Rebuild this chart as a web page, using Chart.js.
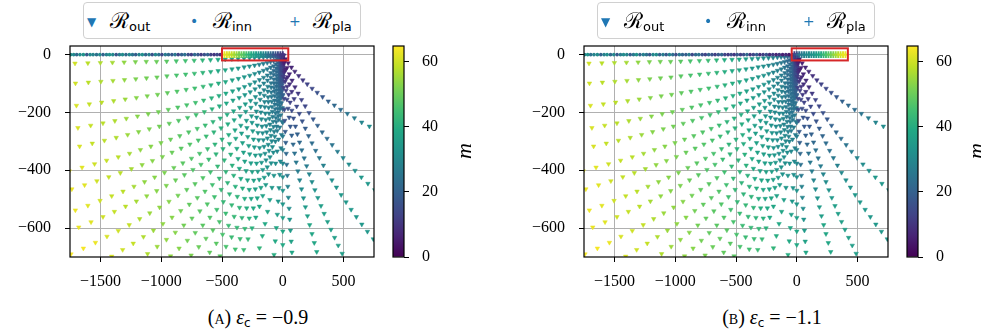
<!DOCTYPE html>
<html>
<head>
<meta charset="utf-8">
<script src="https://cdn.jsdelivr.net/npm/chart.js@4.4.1/dist/chart.umd.min.js"></script>
<style>
  body { margin: 0; background: #fff; }
  #wrap { position: relative; width: 981px; height: 333px; overflow: hidden; font-family: 'Liberation Serif', serif; color: #000; }
  canvas { position: absolute; top: 0; }
  .legend { position: absolute; top: 2px; width: 276px; height: 35px; border: 1.3px solid #d0d0d0; border-radius: 4px; background: #fff; }
  .mk { position: absolute; color: #1f77b4; font-family: 'DejaVu Sans', sans-serif; line-height: 1; }
  .lab { position: absolute; top: 7px; font-family: 'DejaVu Serif', serif; font-size: 22px; line-height: 1; white-space: nowrap; }
  .lab span { font-family: 'DejaVu Sans', sans-serif; font-size: 13px; position: relative; top: 3px; }
  .cap { position: absolute; top: 306px; width: 220px; text-align: center; font-size: 20px; line-height: 22px; white-space: nowrap; }
  .cap .sc { font-variant: small-caps; }
  .cap sub { font-family: 'DejaVu Sans', sans-serif; font-size: 12px; vertical-align: -3px; }
  .mlab { position: absolute; top: 140px; font-size: 22px; font-style: italic; transform: rotate(-90deg); line-height: 1; }
</style>
</head>
<body>
<div id="wrap">
  <canvas id="plotA" width="380" height="292" style="left:0px"></canvas>
  <canvas id="barA" width="100" height="292" style="left:380px"></canvas>
  <canvas id="plotB" width="380" height="292" style="left:514px"></canvas>
  <canvas id="barB" width="100" height="292" style="left:894px"></canvas>

  <div class="legend" style="left:83px">
    <span class="mk" style="left:3px;top:13px;font-size:12px">▼</span>
    <span class="lab" style="left:26px">ℛ<span>out</span></span>
    <span class="mk" style="left:106px;top:11px;font-size:14px">•</span>
    <span class="lab" style="left:129px">ℛ<span>inn</span></span>
    <span class="mk" style="left:205px;top:11px;font-size:14px">+</span>
    <span class="lab" style="left:229px">ℛ<span>pla</span></span>
  </div>
  <div class="legend" style="left:597px">
    <span class="mk" style="left:3px;top:13px;font-size:12px">▼</span>
    <span class="lab" style="left:26px">ℛ<span>out</span></span>
    <span class="mk" style="left:106px;top:11px;font-size:14px">•</span>
    <span class="lab" style="left:129px">ℛ<span>inn</span></span>
    <span class="mk" style="left:205px;top:11px;font-size:14px">+</span>
    <span class="lab" style="left:229px">ℛ<span>pla</span></span>
  </div>

  <div class="cap" style="left:148px">(<span class="sc">a</span>) <i>ε</i><sub>c</sub> = −0.9</div>
  <div class="cap" style="left:662px">(<span class="sc">b</span>) <i>ε</i><sub>c</sub> = −1.1</div>
  <div class="mlab" style="left:456px">m</div>
  <div class="mlab" style="left:968px">m</div>
</div>
<script>
// axis ticks
const xTicks = [-1500, -1000, -500, 0, 500];
const yTicks = [-600, -400, -200, 0];
const cbTicks = [0, 20, 40, 60];
const CB_MAX = 64.8;

// R_out: one list per ray, [x, y, m]
const outLeft = [
  [[-1,-1,8],[-5,-2,11],[-12,-3,14],[-23,-4,18],[-38,-5,20],[-55,-6,21],[-76,-7,22],[-101,-8,24],[-129,-8,26],[-160,-9,27],[-195,-10,28],[-233,-11,30],[-274,-12,32],[-319,-13,33],[-368,-14,34],[-419,-15,36],[-474,-16,38],[-533,-17,39],[-595,-18,40],[-660,-19,42],[-729,-20,44],[-801,-21,45],[-876,-22,46],[-955,-23,48],[-1038,-24,50],[-1123,-24,51],[-1212,-25,52],[-1305,-26,54],[-1401,-27,56],[-1500,-28,57],[-1603,-29,58],[-1709,-30,60]],
  [[-1,-3,8],[-5,-6,11],[-12,-9,14],[-23,-12,18],[-37,-16,20],[-55,-19,21],[-76,-22,22],[-101,-25,24],[-128,-28,26],[-160,-31,27],[-194,-34,28],[-232,-37,30],[-274,-40,32],[-318,-43,33],[-367,-47,34],[-418,-50,36],[-473,-53,38],[-532,-56,39],[-593,-59,40],[-658,-62,42],[-727,-65,44],[-799,-68,45],[-874,-71,46],[-953,-74,48],[-1035,-78,50],[-1121,-81,51],[-1209,-84,52],[-1302,-87,54],[-1397,-90,56],[-1496,-93,57],[-1599,-96,58],[-1705,-99,60]],
  [[-1,-6,9],[-5,-11,12],[-12,-17,15],[-23,-22,19],[-37,-28,21],[-55,-33,22],[-76,-39,23],[-100,-44,25],[-128,-50,27],[-159,-55,28],[-193,-61,29],[-231,-66,31],[-272,-72,33],[-317,-77,34],[-365,-83,35],[-416,-88,37],[-471,-94,39],[-529,-99,40],[-591,-105,41],[-655,-110,43],[-724,-116,45],[-795,-121,46],[-870,-127,47],[-949,-132,49],[-1030,-138,51],[-1115,-143,52],[-1204,-149,53],[-1296,-154,55],[-1391,-160,57],[-1490,-165,58],[-1591,-171,59],[-1697,-176,61]],
  [[-1,-8,9],[-5,-16,12],[-12,-24,15],[-23,-32,19],[-37,-40,21],[-54,-47,22],[-75,-55,23],[-99,-63,25],[-127,-71,27],[-158,-79,28],[-192,-87,29],[-230,-95,31],[-270,-103,33],[-315,-111,34],[-362,-119,35],[-413,-126,37],[-468,-134,39],[-525,-142,40],[-586,-150,41],[-651,-158,43],[-718,-166,45],[-790,-174,46],[-864,-182,47],[-942,-190,49],[-1023,-198,51],[-1107,-205,52],[-1195,-213,53],[-1287,-221,55],[-1381,-229,57],[-1479,-237,58],[-1580,-245,59],[-1685,-253,61]],
  [[-1,-10,9],[-5,-20,12],[-12,-30,15],[-23,-40,19],[-37,-50,21],[-54,-59,22],[-75,-69,23],[-99,-79,25],[-126,-89,27],[-156,-99,28],[-190,-109,29],[-228,-119,31],[-268,-129,33],[-312,-139,34],[-359,-149,35],[-410,-158,37],[-464,-168,39],[-521,-178,40],[-582,-188,41],[-645,-198,43],[-713,-208,45],[-783,-218,46],[-857,-228,47],[-934,-238,49],[-1015,-248,51],[-1098,-257,52],[-1186,-267,53],[-1276,-277,55],[-1370,-287,57],[-1467,-297,58],[-1567,-307,59],[-1671,-317,61]],
  [[-1,-12,10],[-5,-24,13],[-12,-37,16],[-22,-49,20],[-36,-61,22],[-53,-73,23],[-74,-85,24],[-97,-98,26],[-124,-110,28],[-155,-122,29],[-188,-134,30],[-225,-146,32],[-265,-159,34],[-308,-171,35],[-355,-183,36],[-405,-195,38],[-458,-207,40],[-515,-220,41],[-574,-232,42],[-638,-244,44],[-704,-256,46],[-774,-268,47],[-847,-281,48],[-923,-293,50],[-1002,-305,52],[-1085,-317,53],[-1171,-329,54],[-1260,-342,56],[-1353,-354,58],[-1449,-366,59],[-1548,-378,60],[-1651,-390,62],[-1756,-403,63]],
  [[-1,-14,10],[-5,-28,13],[-12,-42,16],[-22,-56,20],[-36,-71,22],[-53,-85,23],[-73,-99,24],[-96,-113,26],[-123,-127,28],[-153,-141,29],[-186,-155,30],[-222,-169,32],[-262,-183,34],[-305,-197,35],[-351,-212,36],[-400,-226,38],[-452,-240,40],[-508,-254,41],[-567,-268,42],[-630,-282,44],[-695,-296,46],[-764,-310,47],[-836,-324,48],[-911,-338,50],[-990,-353,52],[-1072,-367,53],[-1157,-381,54],[-1245,-395,56],[-1336,-409,58],[-1431,-423,59],[-1529,-437,60],[-1630,-451,62],[-1735,-465,63]],
  [[-1,-16,10],[-5,-33,13],[-12,-49,16],[-22,-65,20],[-35,-82,22],[-52,-98,23],[-72,-114,24],[-95,-130,26],[-121,-147,28],[-150,-163,29],[-183,-179,30],[-218,-196,32],[-257,-212,34],[-299,-228,35],[-345,-245,36],[-393,-261,38],[-445,-277,40],[-500,-293,41],[-558,-310,42],[-619,-326,44],[-684,-342,46],[-751,-359,47],[-822,-375,48],[-896,-391,50],[-973,-408,52],[-1054,-424,53],[-1137,-440,54],[-1224,-456,56],[-1314,-473,58],[-1407,-489,59],[-1503,-505,60],[-1603,-522,62],[-1706,-538,63]],
  [[-1,-18,10],[-4,-36,13],[-11,-54,16],[-21,-72,20],[-35,-91,22],[-51,-109,23],[-70,-127,24],[-93,-145,26],[-119,-163,28],[-148,-181,29],[-180,-199,30],[-215,-217,32],[-253,-235,34],[-295,-253,35],[-339,-272,36],[-387,-290,38],[-438,-308,40],[-492,-326,41],[-549,-344,42],[-609,-362,44],[-673,-380,46],[-739,-398,47],[-809,-416,48],[-882,-434,50],[-958,-453,52],[-1037,-471,53],[-1119,-489,54],[-1204,-507,56],[-1293,-525,58],[-1385,-543,59],[-1479,-561,60],[-1577,-579,62],[-1678,-597,63]],
  [[-1,-20,11],[-4,-41,14],[-11,-61,17],[-21,-81,21],[-34,-102,23],[-50,-122,24],[-69,-142,25],[-91,-162,27],[-116,-183,29],[-144,-203,30],[-176,-223,31],[-210,-244,33],[-247,-264,35],[-288,-284,36],[-331,-305,37],[-378,-325,39],[-428,-345,41],[-481,-365,42],[-536,-386,43],[-595,-406,45],[-657,-426,47],[-722,-447,48],[-790,-467,49],[-862,-487,51],[-936,-508,53],[-1013,-528,54],[-1094,-548,55],[-1177,-568,57],[-1263,-589,59],[-1353,-609,60],[-1446,-629,61],[-1541,-650,63],[-1640,-670,64],[-1742,-690,64]]
];

const outMiddle = [
  [[-1,-23,11],[-4,-45,14],[-11,-68,17],[-20,-90,21],[-33,-113,23],[-48,-135,24],[-67,-158,25],[-89,-180,27],[-113,-203,29],[-140,-225,30],[-171,-248,31],[-204,-270,33],[-241,-293,35],[-280,-315,36],[-323,-338,37],[-368,-360,39],[-416,-383,41],[-468,-405,42],[-522,-428,43],[-579,-450,45],[-640,-473,47],[-703,-495,48],[-769,-518,49],[-839,-540,51],[-911,-563,53],[-986,-585,54],[-1064,-608,55],[-1146,-630,57],[-1230,-653,59],[-1317,-675,60],[-1407,-698,61]],
  [[-1,-25,11],[-4,-49,14],[-10,-74,17],[-20,-98,21],[-32,-123,23],[-47,-148,24],[-65,-172,25],[-86,-197,27],[-110,-221,29],[-136,-246,30],[-166,-271,31],[-198,-295,33],[-234,-320,35],[-272,-344,36],[-313,-369,37],[-357,-394,39],[-404,-418,41],[-454,-443,42],[-507,-467,43],[-562,-492,45],[-621,-517,47],[-682,-541,48],[-747,-566,49],[-814,-590,51],[-884,-615,53],[-957,-640,54],[-1033,-664,55],[-1112,-689,57]],
  [[-1,-27,11],[-4,-54,14],[-10,-80,17],[-19,-107,21],[-31,-134,23],[-45,-161,24],[-63,-188,25],[-83,-214,27],[-106,-241,29],[-132,-268,30],[-160,-295,31],[-191,-322,33],[-225,-348,35],[-262,-375,36],[-302,-402,37],[-345,-429,39],[-390,-456,41],[-438,-482,42],[-489,-509,43],[-543,-536,45],[-599,-563,47],[-658,-590,48],[-720,-616,49],[-785,-643,51],[-853,-670,53],[-923,-697,54]],
  [[-1,-29,12],[-4,-58,15],[-10,-87,18],[-18,-116,22],[-30,-145,24],[-44,-173,25],[-60,-202,26],[-80,-231,28],[-102,-260,30],[-126,-289,31],[-154,-318,32],[-184,-347,34],[-216,-376,36],[-252,-405,37],[-290,-434,38],[-331,-462,40],[-374,-491,42],[-420,-520,43],[-469,-549,44],[-521,-578,46],[-575,-607,48],[-632,-636,49],[-691,-665,50],[-754,-694,52]],
  [[-1,-31,12],[-4,-62,15],[-9,-93,18],[-17,-124,22],[-28,-156,24],[-41,-187,25],[-57,-218,26],[-76,-249,28],[-97,-280,30],[-120,-311,31],[-146,-342,32],[-175,-373,34],[-206,-404,36],[-239,-435,37],[-276,-467,38],[-314,-498,40],[-356,-529,42],[-400,-560,43],[-446,-591,44],[-495,-622,46],[-547,-653,48],[-601,-684,49]],
  [[0,-33,12],[-3,-66,15],[-9,-100,18],[-16,-133,22],[-27,-166,24],[-39,-199,25],[-54,-232,26],[-71,-266,28],[-91,-299,30],[-113,-332,31],[-138,-365,32],[-165,-398,34],[-194,-432,36],[-226,-465,37],[-260,-498,38],[-297,-531,40],[-336,-564,42],[-377,-598,43],[-421,-631,44],[-467,-664,46],[-516,-697,48]],
  [[0,-35,13],[-3,-71,16],[-8,-106,19],[-15,-142,23],[-25,-177,25],[-36,-212,26],[-50,-248,27],[-66,-283,29],[-85,-319,31],[-105,-354,32],[-128,-389,33],[-153,-425,35],[-180,-460,37],[-210,-496,38],[-242,-531,39],[-276,-566,41],[-312,-602,43],[-351,-637,44],[-391,-673,45]],
  [[0,-38,13],[-3,-75,16],[-7,-113,19],[-14,-150,23],[-23,-188,25],[-33,-225,26],[-46,-263,27],[-61,-300,29],[-78,-338,31],[-96,-375,32],[-117,-413,33],[-140,-450,35],[-165,-488,37],[-192,-525,38],[-222,-563,39],[-253,-600,41],[-286,-638,43],[-321,-675,44]],
  [[0,-42,14],[-2,-84,17],[-6,-125,20],[-11,-167,24],[-17,-209,26],[-25,-251,27],[-35,-293,28],[-46,-334,30],[-59,-376,32],[-73,-418,33],[-89,-460,34],[-106,-502,36],[-125,-543,38],[-146,-585,39],[-168,-627,40],[-192,-669,42]],
  [[0,-46,14],[-1,-92,17],[-2,-138,20],[-5,-184,24],[-7,-231,26],[-11,-277,27],[-15,-323,28],[-20,-369,30],[-25,-415,32],[-31,-461,33],[-38,-507,34],[-45,-553,36],[-53,-599,38],[-62,-645,39],[-72,-692,40]],
  [[0,-47,14],[0,-94,17],[0,-141,20],[0,-188,24],[0,-235,26],[0,-282,27],[0,-329,28],[0,-376,30],[0,-423,32],[0,-470,33],[0,-517,34],[0,-564,36],[0,-611,38],[0,-658,39]]
];

const outRight = [
  [[2,-38,11],[4,-76,12],[7,-114,13],[10,-152,14],[13,-190,15],[16,-228,17],[20,-266,19],[24,-304,20],[28,-342,22],[32,-380,24],[37,-418,26],[41,-456,28],[46,-494,29],[52,-532,31],[57,-570,33],[63,-608,35],[69,-646,37],[75,-684,38]],
  [[5,-31,9],[11,-62,10],[18,-93,11],[26,-124,12],[34,-155,13],[43,-186,15],[52,-217,17],[62,-248,18],[73,-279,20],[85,-310,22],[97,-341,24],[110,-372,26],[124,-403,27],[139,-434,29],[154,-465,31],[170,-496,33],[186,-527,35],[203,-558,36],[221,-589,38],[240,-620,38],[259,-651,38],[279,-682,38]],
  [[8,-28,7],[16,-55,8],[26,-83,9],[36,-110,10],[48,-138,11],[60,-165,13],[74,-193,15],[88,-220,16],[104,-248,18],[120,-275,20],[138,-303,22],[156,-330,24],[176,-358,25],[196,-385,27],[218,-413,29],[240,-440,31],[264,-468,33],[288,-495,34],[314,-523,36],[340,-550,36],[368,-578,36],[396,-605,36],[426,-633,36],[456,-660,36],[488,-688,36]],
  [[12,-26,6],[25,-51,7],[40,-77,8],[56,-102,9],[74,-128,10],[93,-153,12],[114,-179,14],[136,-204,15],[160,-230,17],[185,-255,19],[212,-281,21],[240,-306,23],[270,-332,24],[301,-357,26],[334,-383,28],[368,-408,30],[404,-434,32],[441,-459,33],[480,-485,34],[520,-510,34],[562,-536,34],[605,-561,34],[650,-587,34],[696,-612,34],[744,-638,34]],
  [[16,-22,5],[34,-45,6],[54,-67,7],[76,-89,8],[100,-112,9],[126,-134,11],[154,-156,13],[184,-178,14],[216,-201,16],[250,-223,18],[286,-245,20],[324,-268,22],[364,-290,23],[406,-312,25],[450,-335,27],[496,-357,29],[544,-379,31],[594,-401,32],[646,-424,34],[700,-446,34],[756,-468,34]],
  [[21,-15,5],[44,-29,6],[71,-44,7],[99,-58,8],[131,-73,9],[165,-88,11],[201,-102,13],[241,-117,14],[283,-131,16],[327,-146,18],[374,-161,20],[424,-175,22],[476,-190,23],[531,-204,25],[589,-219,27],[649,-234,29],[712,-248,31]]
];

// R_inn dots along y = 0
const innXA = [-1745,-1720,-1695,-1668,-1640,-1612,-1585,-1560,-1532,-1505,-1478,-1450,-1425,-1398,-1370,-1343,-1318,-1290,-1262,-1236,-1210,-1182,-1155,-1128,-1100,-1074,-1047,-1020,-994,-966,-940,-912,-886,-860,-832,-806,-778,-752,-725,-698,-672,-645,-618,-592,-565,-540,-515];
const innMA = [32,30,22,31,33,18,30,29,24,31,20,28,33,30,17,27,31,22,30,25,19,29,32,21,28,16,30,24,14,27,22,18,26,13,20,24,15,12,22,18,11,16,20,12,10,14,9];
const innXB = [-1745,-1720,-1695,-1668,-1640,-1612,-1585,-1560,-1532,-1505,-1478,-1450,-1425,-1398,-1370,-1343,-1318,-1290,-1262,-1236,-1210,-1182,-1155,-1128,-1100,-1074,-1047,-1020,-994,-966,-940,-912,-886,-860,-832,-806,-778,-752,-725,-698,-672,-645,-618,-592,-565,-540,-515,-490,-463,-437,-410,-384,-357,-330,-304,-277,-250,-224,-197,-170,-144,-117,-90,-64,-38];
const innMB = [30,33,24,29,31,20,28,32,22,30,18,27,31,29,19,26,33,21,28,24,17,30,31,20,27,18,29,23,15,26,21,19,27,14,22,25,16,13,21,17,12,18,21,13,11,15,10,18,12,15,22,10,14,19,9,12,16,8,11,7,10,6,8,5,6];

// R_pla strip
const plaXA = [-480,-460,-440,-420,-400,-380,-360,-340,-320,-300,-280,-260,-240,-220,-200,-180,-160,-140,-120,-100,-80,-60,-40,-20,0];
const plaMA = [63,62,61,59,57,55,52,50,48,46,43,40,38,36,34,32,30,28,25,22,20,17,15,12,10];
const plaXB = [-20,0,20,40,60,80,100,120,140,160,180,200,220,240,260,280,300,320,340,360,380,400];
const plaMB = [12,16,22,26,28,30,31,32,33,35,37,39,42,45,47,50,52,55,57,60,62,63];

// zoom boxes [x0, x1, y0, y1]
const boxA = [-500, 45, -20, 22];
const boxB = [-42, 420, -20, 22];

const VIRIDIS = [[68,1,84],[72,36,117],[65,68,135],[53,95,141],[42,120,142],[33,145,140],[34,168,132],[68,191,112],[122,209,81],[189,223,38],[253,231,37]];
function viridis(m) {
  const t = Math.min(Math.max(m / CB_MAX, 0), 1) * 10;
  const i = Math.min(Math.floor(t), 9), f = t - i;
  const a = VIRIDIS[i], b = VIRIDIS[i + 1];
  return 'rgb(' + a.map((v, k) => Math.round(v + (b[k] - v) * f)).join(',') + ')';
}
const colorOf = (ctx) => viridis(ctx.raw ? ctx.raw.m : 0);

const outPoints = [...outLeft, ...outMiddle, ...outRight].flat().map(([x, y, m]) => ({ x, y, m }));
const rowPoints = (xs, ms) => xs.map((x, i) => ({ x, y: 0, m: ms[i] }));

const tickFont = { family: "'Liberation Serif', serif", size: 16 };
const fmt = (v) => (v < 0 ? '\u2212' + Math.abs(v) : String(v));

const framePlugin = {
  id: 'frame',
  afterDatasetsDraw(chart, args, opts) {
    const { ctx, chartArea: a, scales } = chart;
    ctx.save();
    if (opts.box) {
      const [x0, x1, y0, y1] = opts.box;
      const px0 = scales.x.getPixelForValue(x0), px1 = scales.x.getPixelForValue(x1);
      const py0 = scales.y.getPixelForValue(y1), py1 = scales.y.getPixelForValue(y0);
      ctx.strokeStyle = '#d62728';
      ctx.lineWidth = 2;
      ctx.strokeRect(px0, py0, px1 - px0, py1 - py0);
    }
    ctx.strokeStyle = '#000';
    ctx.lineWidth = 1.2;
    ctx.strokeRect(a.left, a.top, a.width, a.height);
    ctx.restore();
  }
};

function makePanel(id, inn, pla, box) {
  new Chart(document.getElementById(id), {
    type: 'scatter',
    data: {
      datasets: [
        { data: pla, pointStyle: 'cross', pointRadius: 3.4, pointBorderWidth: 1.9,
          pointBorderColor: colorOf, pointBackgroundColor: colorOf },
        { data: inn, pointStyle: 'circle', pointRadius: 1.8, pointBorderWidth: 0,
          pointBorderColor: colorOf, pointBackgroundColor: colorOf },
        { data: outPoints, pointStyle: 'triangle', pointRotation: 180, pointRadius: 2.6, pointBorderWidth: 0.5,
          pointBorderColor: colorOf, pointBackgroundColor: colorOf }
      ]
    },
    options: {
      responsive: false, animation: false, devicePixelRatio: 1, events: [],
      layout: { padding: { top: 46, right: 6, left: 0, bottom: 0 } },
      plugins: { legend: { display: false }, tooltip: { enabled: false }, frame: { box } },
      scales: {
        x: {
          type: 'linear', min: -1750, max: 750,
          afterBuildTicks: (s) => { s.ticks = xTicks.map((v) => ({ value: v })); },
          afterFit: (s) => { s.height = 35; },
          grid: { color: '#b0b0b0', lineWidth: 1, tickColor: '#000', tickLength: 5, tickWidth: 1 },
          border: { display: false },
          ticks: { padding: 10, font: tickFont, color: '#000', callback: fmt, maxRotation: 0, autoSkip: false }
        },
        y: {
          type: 'linear', min: -700, max: 30,
          afterBuildTicks: (s) => { s.ticks = yTicks.map((v) => ({ value: v })); },
          afterFit: (s) => { s.width = 70; },
          grid: { color: '#b0b0b0', lineWidth: 1, tickColor: '#000', tickLength: 5, tickWidth: 1 },
          border: { display: false },
          ticks: { padding: 14, font: tickFont, color: '#000', callback: fmt, autoSkip: false }
        }
      }
    },
    plugins: [framePlugin]
  });
}

function makeColorbar(id) {
  new Chart(document.getElementById(id), {
    type: 'bar',
    data: {
      labels: [''],
      datasets: [{
        data: [CB_MAX], borderWidth: 0, barPercentage: 1, categoryPercentage: 1,
        backgroundColor: (c) => {
          const a = c.chart.chartArea;
          if (!a) return '#21918c';
          const g = c.chart.ctx.createLinearGradient(0, a.bottom, 0, a.top);
          VIRIDIS.forEach((v, i) => g.addColorStop(i / 10, 'rgb(' + v.join(',') + ')'));
          return g;
        }
      }]
    },
    options: {
      responsive: false, animation: false, devicePixelRatio: 1, events: [],
      layout: { padding: { top: 46, left: 13, right: 0, bottom: 35 } },
      plugins: { legend: { display: false }, tooltip: { enabled: false }, frame: {} },
      scales: {
        x: { display: false },
        y: {
          position: 'right', min: 0, max: CB_MAX,
          afterBuildTicks: (s) => { s.ticks = cbTicks.map((v) => ({ value: v })); },
          afterFit: (s) => { s.width = 76; },
          grid: { drawOnChartArea: false, tickColor: '#000', tickLength: 5, tickWidth: 1 },
          border: { display: false },
          ticks: { padding: 13, font: tickFont, color: '#000', autoSkip: false }
        }
      }
    },
    plugins: [framePlugin]
  });
}

makePanel('plotA', rowPoints(innXA, innMA), rowPoints(plaXA, plaMA), boxA);
makePanel('plotB', rowPoints(innXB, innMB), rowPoints(plaXB, plaMB), boxB);
makeColorbar('barA');
makeColorbar('barB');
</script>
</body>
</html>
